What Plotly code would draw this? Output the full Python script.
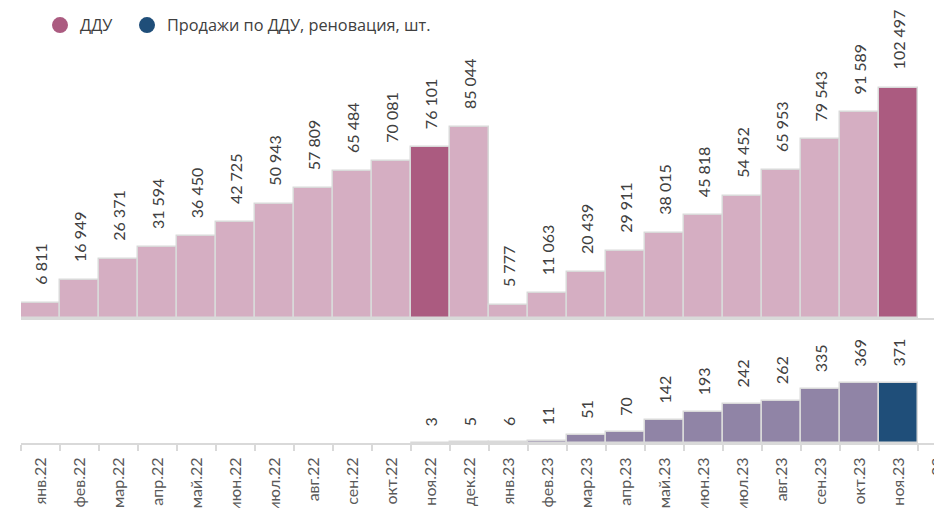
import plotly.graph_objects as go

months = ["янв.22", "фев.22", "мар.22", "апр.22", "май.22", "июн.22", "июл.22", "авг.22",
          "сен.22", "окт.22", "ноя.22", "дек.22", "янв.23", "фев.23", "мар.23", "апр.23",
          "май.23", "июн.23", "июл.23", "авг.23", "сен.23", "окт.23", "ноя.23", "дек.23"]

ddu_months = months[:23]
ddu_values = [6811, 16949, 26371, 31594, 36450, 42725, 50943, 57809, 65484, 70081, 76101, 85044,
              5777, 11063, 20439, 29911, 38015, 45818, 54452, 65953, 79543, 91589, 102497]
ddu_highlight = ["ноя.22", "ноя.23"]

reno_months = months[10:23]
reno_values = [3, 5, 6, 11, 51, 70, 142, 193, 242, 262, 335, 369, 371]
reno_highlight = ["ноя.23"]

PINK = "#D5AEC2"
PINK_DARK = "#AB5B80"
PURPLE = "#9084A6"
BLUE = "#1F4E79"
GRID = "#D9D9D9"
TXT = "#404040"


def fmt(v):
    return f"{v:,}".replace(",", " ")


fig = go.Figure()

fig.add_trace(go.Bar(
    x=ddu_months, y=ddu_values, xaxis="x", yaxis="y",
    marker=dict(color=[PINK_DARK if m in ddu_highlight else PINK for m in ddu_months],
                line=dict(color=GRID, width=1.5)),
    showlegend=False, hoverinfo="x+y"))

fig.add_trace(go.Bar(
    x=reno_months, y=reno_values, xaxis="x2", yaxis="y2",
    marker=dict(color=[BLUE if m in reno_highlight else PURPLE for m in reno_months],
                line=dict(color=GRID, width=1.5)),
    showlegend=False, hoverinfo="x+y"))

# legend entries (circles)
fig.add_trace(go.Scatter(x=[None], y=[None], mode="markers", name="ДДУ",
                         marker=dict(color=PINK_DARK, size=18, symbol="circle"),
                         xaxis="x", yaxis="y", legend="legend"))
fig.add_trace(go.Scatter(x=[None], y=[None], mode="markers", name="Продажи по ДДУ, реновация, шт.",
                         marker=dict(color=BLUE, size=18, symbol="circle"),
                         xaxis="x", yaxis="y", legend="legend2"))

annotations = []
for m, v in zip(ddu_months, ddu_values):
    annotations.append(dict(x=m, y=v, xref="x", yref="y", text=fmt(v), textangle=-90,
                            showarrow=False, yanchor="bottom", xanchor="center", yshift=16,
                            font=dict(family="Lato", size=16, color=TXT)))
for m, v in zip(reno_months, reno_values):
    annotations.append(dict(x=m, y=v, xref="x2", yref="y2", text=fmt(v), textangle=-90,
                            showarrow=False, yanchor="bottom", xanchor="center", yshift=14,
                            font=dict(family="Lato", size=16, color=TXT)))

# the page body has an 8px margin; compensate so screen positions match
OFF = 8
PLOT_H = 508 - 73          # plot area height in paper px (margin b = 73)
BASE_TOP = 318 - OFF       # top subplot baseline (paper px)
BASE_BOT_TOP = 330 - OFF   # top of bottom subplot (paper px)
PX_PER_UNIT = 0.002245

xdom = [(21 - OFF) / 942, 1]
xrange = [-0.5, -0.5 + (942 - (21 - OFF)) / 39]

legend_common = dict(orientation="h", y=1.0, xanchor="left", yanchor="top",
                     font=dict(family="Open Sans", size=16.3, color=TXT),
                     bgcolor="rgba(0,0,0,0)", itemsizing="trace")

fig.update_layout(
    width=942, height=508,
    margin=dict(l=0, r=0, t=0, b=73, autoexpand=False),
    paper_bgcolor="white", plot_bgcolor="white",
    bargap=0,
    showlegend=True,
    legend=dict(x=32 / 942, **legend_common),
    legend2=dict(x=119 / 942, **legend_common),
    annotations=annotations,
    xaxis=dict(domain=xdom, type="category", categoryorder="array", categoryarray=months,
               range=xrange, autorange=False, anchor="y", showticklabels=False, ticks="",
               showline=True, linecolor=GRID, linewidth=2, showgrid=False, zeroline=False,
               automargin=False, fixedrange=True),
    yaxis=dict(domain=[(PLOT_H - BASE_TOP) / PLOT_H, 1], range=[0, BASE_TOP / PX_PER_UNIT],
               visible=False, showgrid=False, zeroline=False),
    xaxis2=dict(domain=xdom, type="category", categoryorder="array", categoryarray=months,
                range=xrange, autorange=False, anchor="y2", showticklabels=True, tickangle=-90,
                ticks="outside", tickson="boundaries", ticklen=6, tickcolor=GRID, tickwidth=1.5,
                showline=True, linecolor=GRID, linewidth=2, showgrid=False, zeroline=False,
                tickfont=dict(family="Lato", size=16, color="#595959"),
                ticklabelstandoff=6, ticklabeloverflow="allow", automargin=False),
    yaxis2=dict(domain=[0, (PLOT_H - BASE_BOT_TOP) / PLOT_H], range=[0, 699], visible=False,
                showgrid=False, zeroline=False),
)

fig.write_html("out.html")
